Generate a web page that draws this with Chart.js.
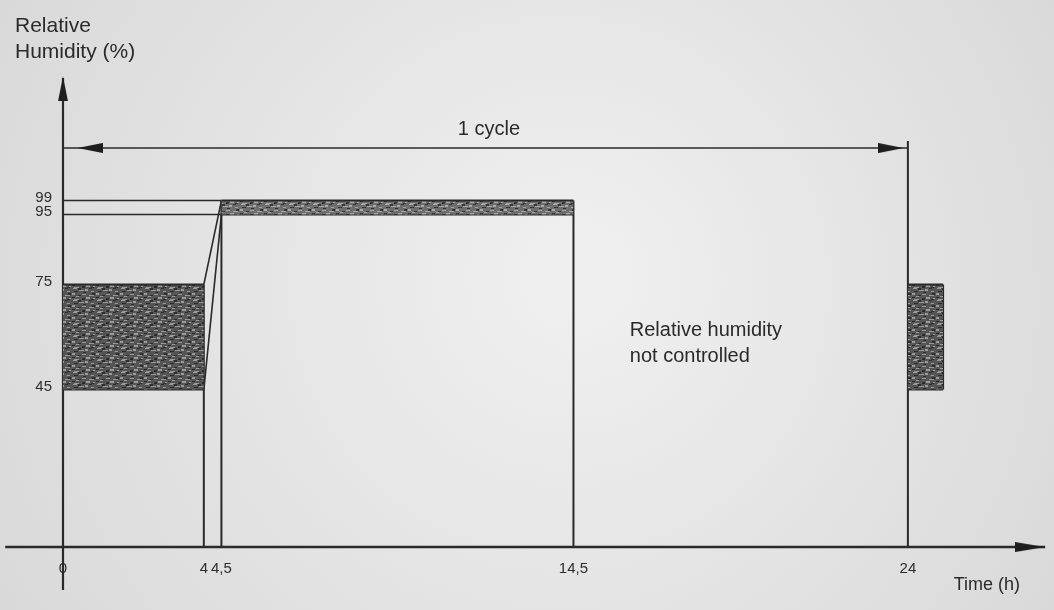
<!DOCTYPE html>
<html>
<head>
<meta charset="utf-8">
<script src="https://cdn.jsdelivr.net/npm/chart.js@4.4.1/dist/chart.umd.min.js"></script>
<style>
  html, body { margin: 0; padding: 0; background: #e4e4e4; }
  canvas { display: block; }
</style>
</head>
<body>
<canvas id="rhChart" width="1054" height="610"></canvas>
<script>
// tick positions
const tickHours = [0, 4, 4.5, 14.5, 24];
const tickRH = [45, 75, 95, 99];

// conditioning phase (0 - 4 h, 45 - 75 %)
const startHours = [0, 4];
const startRH = [45, 75];
// damp phase (4,5 - 14,5 h, 95 - 99 %)
const dampHours = [4.5, 14.5];
const dampRH = [95, 99];
// start of next cycle
const nextHours = [24, 25];
const nextRH = [45, 75];

// annotation levels
const cycleLevel = 114;
const cycleTop = 116;
const axisTop = 134;

const ink = '#2a2a2a';
const canvas = document.getElementById('rhChart');
const ctx = canvas.getContext('2d');

function stipple(base, dots, dark) {
  const c = document.createElement('canvas');
  c.width = 24; c.height = 12;
  const g = c.getContext('2d');
  g.fillStyle = base;
  g.fillRect(0, 0, 24, 12);
  g.fillStyle = dots;
  [[1, 0, 4, 1], [13, 1, 3, 2], [7, 2, 5, 1], [19, 3, 3, 1], [0, 5, 3, 2], [10, 6, 4, 1],
   [17, 7, 5, 1], [4, 8, 3, 1], [14, 9, 4, 2], [21, 10, 2, 1], [2, 11, 5, 1]]
    .forEach(([x, y, w, h]) => g.fillRect(x, y, w, h));
  g.fillStyle = dark;
  [[6, 0, 3, 2], [17, 0, 3, 1], [2, 3, 4, 1], [11, 4, 3, 1], [20, 5, 3, 2], [6, 7, 3, 1],
   [0, 9, 3, 1], [10, 10, 3, 2], [19, 11, 3, 1]]
    .forEach(([x, y, w, h]) => g.fillRect(x, y, w, h));
  return ctx.createPattern(c, 'repeat');
}

function arrowHead(len, half) {
  const c = document.createElement('canvas');
  c.width = len; c.height = half * 2;
  const g = c.getContext('2d');
  g.fillStyle = '#1e1e1e';
  g.beginPath();
  g.moveTo(0, 0);
  g.lineTo(len, half);
  g.lineTo(0, half * 2);
  g.closePath();
  g.fill();
  return c;
}

const boxFill = stipple('#555555', '#9a9a9a', '#2c2c2c');
const bandFill = stipple('#6e6e6e', '#a8a8a8', '#363636');
const arrowLong = arrowHead(30, 5);
const arrowShort = arrowHead(25, 5);

const pts = (xs, ys) => xs.map((x, i) => ({ x: x, y: ys[i] }));
const seg = (data, extra) => Object.assign({
  data: data,
  borderColor: ink,
  borderWidth: 2,
  pointRadius: 0,
  fill: false,
  clip: false
}, extra || {});

const datasets = [
  // shaded areas (filled down to the following dataset)
  seg(pts(startHours, [startRH[1], startRH[1]]), { fill: '+1', backgroundColor: boxFill }),
  seg(pts(startHours, [startRH[0], startRH[0]])),
  seg(pts(dampHours, [dampRH[1], dampRH[1]]), { fill: '+1', backgroundColor: bandFill }),
  seg(pts(dampHours, [dampRH[0], dampRH[0]])),
  seg(pts(nextHours, [nextRH[1], nextRH[1]]), { fill: '+1', backgroundColor: boxFill }),
  seg(pts(nextHours, [nextRH[0], nextRH[0]])),
  // limit lines before the damp phase
  seg(pts([0, dampHours[0]], [dampRH[1], dampRH[1]]), { borderWidth: 1.6 }),
  seg(pts([0, dampHours[0]], [dampRH[0], dampRH[0]]), { borderWidth: 1.6 }),
  // ramp
  seg(pts([startHours[1], dampHours[0]], [startRH[0], dampRH[0]]), { borderWidth: 1.6 }),
  seg(pts([startHours[1], dampHours[0]], [startRH[1], dampRH[1]]), { borderWidth: 1.6 }),
  // verticals
  seg(pts([startHours[1], startHours[1]], [0, startRH[1]])),
  seg(pts([dampHours[0], dampHours[0]], [0, dampRH[1]])),
  seg(pts([dampHours[1], dampHours[1]], [0, dampRH[1]])),
  seg(pts([nextHours[0], nextHours[0]], [0, cycleTop])),
  seg(pts([nextHours[1], nextHours[1]], nextRH)),
  // axes with arrow heads
  seg(pts([0, 0, 0], [-12.3, 130.9, axisTop]), {
    borderWidth: 2.2, pointStyle: arrowShort, pointRadius: [0, 6, 0], pointRotation: -90
  }),
  seg(pts([-1.64, 27.47, 27.9], [0, 0, 0]), {
    borderWidth: 2.4, pointStyle: arrowLong, pointRadius: [0, 6, 0], pointRotation: 0
  }),
  // one cycle dimension arrow
  seg(pts([0, 0.77, 23.52, 24], [cycleLevel, cycleLevel, cycleLevel, cycleLevel]), {
    borderWidth: 1.6, pointStyle: arrowShort, pointRadius: [0, 6, 6, 0], pointRotation: [0, 180, 0, 0]
  })
];

const paperAndNotes = {
  id: 'paperAndNotes',
  beforeDraw(chart) {
    const { ctx, width, height } = chart;
    const g = ctx.createRadialGradient(width * 0.55, height * 0.45, 40, width * 0.5, height * 0.5, 640);
    g.addColorStop(0, '#efefef');
    g.addColorStop(1, '#d8d8d8');
    ctx.save();
    ctx.fillStyle = g;
    ctx.fillRect(0, 0, width, height);
    ctx.restore();
  },
  afterDraw(chart) {
    const { ctx } = chart;
    const x = chart.scales.x, y = chart.scales.y;
    ctx.save();
    ctx.fillStyle = ink;
    ctx.font = '21px "Liberation Sans", Arial, sans-serif';
    ctx.textAlign = 'left';
    ctx.fillText('Relative', 15, 32);
    ctx.fillText('Humidity (%)', 15, 58);
    ctx.font = '20px "Liberation Sans", Arial, sans-serif';
    ctx.textAlign = 'center';
    ctx.fillText('1 cycle', x.getPixelForValue(12.1), y.getPixelForValue(cycleLevel) - 13);
    ctx.textAlign = 'left';
    ctx.fillText('Relative humidity', x.getPixelForValue(16.1), y.getPixelForValue(60.3));
    ctx.fillText('not controlled', x.getPixelForValue(16.1), y.getPixelForValue(52.9));
    ctx.font = '18px "Liberation Sans", Arial, sans-serif';
    ctx.fillText('Time (h)', x.getPixelForValue(25.3), y.getPixelForValue(-12.4));
    ctx.restore();
  }
};

const tickFont = { family: '"Liberation Sans", Arial, sans-serif', size: 15 };

new Chart(canvas, {
  type: 'line',
  data: { datasets: datasets },
  options: {
    responsive: false,
    animation: false,
    devicePixelRatio: 1,
    layout: { padding: { top: 70, right: 6, left: 0, bottom: 0 } },
    plugins: {
      legend: { display: false },
      tooltip: { enabled: false }
    },
    scales: {
      x: {
        type: 'linear',
        min: -0.142,
        max: 27.98,
        grid: { display: false, drawTicks: false },
        border: { display: false },
        afterBuildTicks: s => { s.ticks = tickHours.map(v => ({ value: v })); },
        afterFit: s => { s.height = 57; },
        ticks: {
          autoSkip: false,
          maxRotation: 0,
          padding: 7,
          color: '#2e2e2e',
          font: tickFont,
          callback: v => String(v).replace('.', ',')
        }
      },
      y: {
        type: 'linear',
        min: -1.7,
        max: 136.3,
        grid: { display: false, drawTicks: false },
        border: { display: false },
        afterBuildTicks: s => { s.ticks = tickRH.map(v => ({ value: v })); },
        afterFit: s => { s.width = 58; },
        ticks: {
          padding: 6,
          labelOffset: -3,
          color: '#2e2e2e',
          font: tickFont
        }
      }
    }
  },
  plugins: [paperAndNotes]
});
</script>
</body>
</html>
